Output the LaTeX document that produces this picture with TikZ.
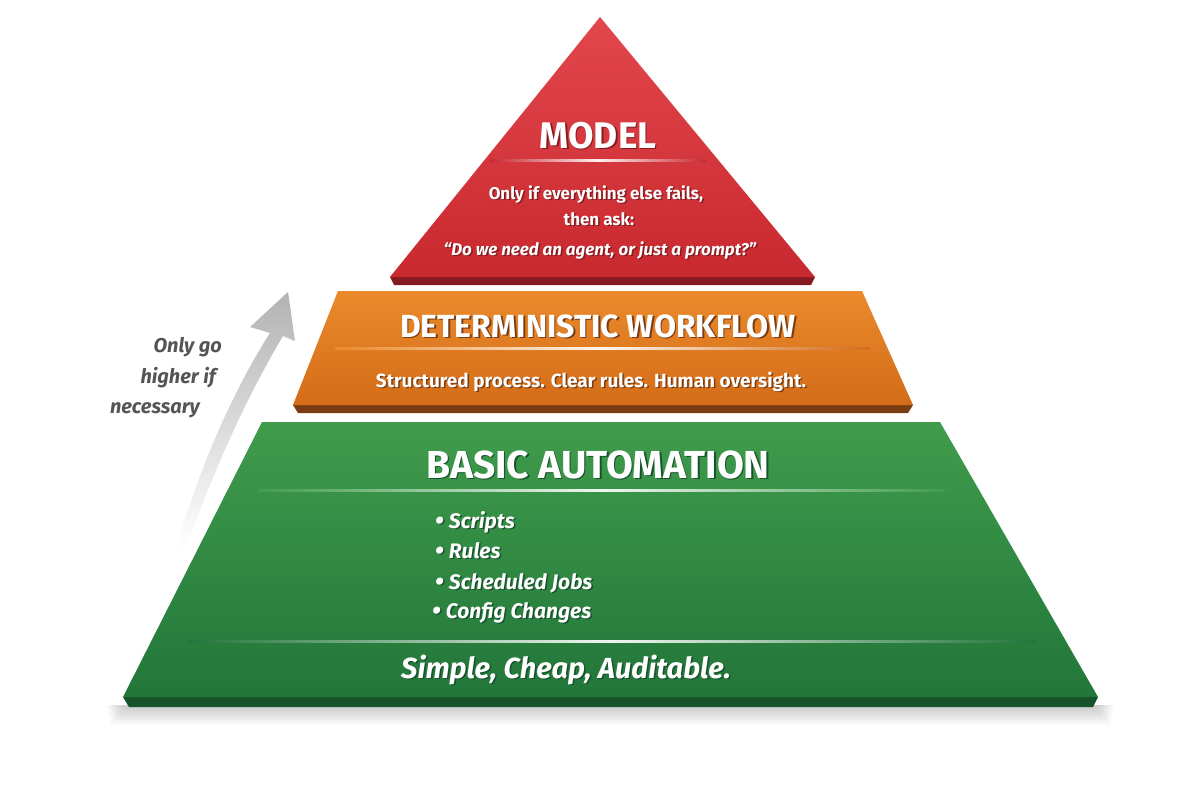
\documentclass[tikz,border=0pt]{standalone}
\usepackage{fontspec}
\newfontfamily\fira{Fira Sans}
\definecolor{redA}{HTML}{E2474C}
\definecolor{redB}{HTML}{C8292F}
\definecolor{redD}{HTML}{861B1F}
\definecolor{orA}{HTML}{EA8A2C}
\definecolor{orB}{HTML}{D46C18}
\definecolor{orD}{HTML}{7A3C12}
\definecolor{grA}{HTML}{409C4C}
\definecolor{grB}{HTML}{22763A}
\definecolor{grD}{HTML}{16532A}
\definecolor{lbl}{HTML}{555555}
\newcommand{\shtxt}[2]{\makebox[0pt][l]{\kern1.5pt\raisebox{-1.5pt}{\textcolor{#1}{#2}}}#2}
\newcommand{\bul}{{\fontsize{26}{26}\selectfont\raisebox{-1pt}{•}}\hspace{5pt}}
\tikzset{
  ttl/.style={text=white,inner sep=0,anchor=base,font=\fira\bfseries\fontsize{37}{37}\selectfont},
  body/.style={text=white,inner sep=0,anchor=base,font=\fira\bfseries\fontsize{17}{17}\selectfont},
  bodyit/.style={text=white,inner sep=0,anchor=base,font=\fira\bfseries\itshape\fontsize{17}{17}\selectfont},
  bullet/.style={text=white,inner sep=0,anchor=base west,font=\fira\bfseries\itshape\fontsize{21}{21}\selectfont},
  side/.style={text=lbl,inner sep=0,anchor=base east,font=\fira\bfseries\itshape\fontsize{20}{20}\selectfont},
}
\begin{document}
\begin{tikzpicture}[x=1pt,y=-1pt]
\useasboundingbox (0,0) rectangle (1200,800);
\fill[white] (0,0) rectangle (1200,800);
% soft shadow under base
\foreach \k in {1,...,8}{
  \fill[black,opacity=0.025] (123-\k*2,705) -- (1098+\k*2,705) -- (1094+\k*2,707+\k*2.2) -- (127-\k*2,707+\k*2.2) -- cycle;
}
% green layer
\fill[grD] (123,697) -- (1098,697) -- (1093,707) -- (129,707) -- cycle;
\shade[top color=grA, bottom color=grB] (262,422) -- (940,422) -- (1098,697) -- (123,697) -- cycle;
% orange layer
\fill[orD] (293,405) -- (913,405) -- (908,413) -- (298,413) -- cycle;
\shade[top color=orA, bottom color=orB] (338,291) -- (862,291) -- (913,405) -- (293,405) -- cycle;
% red layer
\fill[redD] (390,277) -- (815,277) -- (811,285) -- (394,285) -- cycle;
\shade[top color=redA, bottom color=redB] (600,17) -- (815,277) -- (390,277) -- cycle;
% divider lines
\shade[left color=redB, right color=redB, middle color=white!92!redA] (490,159) rectangle (706,161);
\shade[left color=orA, right color=orB, middle color=white!92!orA] (335,347) rectangle (870,349);
\shade[left color=grA, right color=grA, middle color=white!92!grA] (258,489) rectangle (945,491);
\shade[left color=grB, right color=grB, middle color=white!92!grA] (187,640) rectangle (1035,642);
% arrow
\shade[top color=gray!60, bottom color=white] (176,548) .. controls (205,450) and (240,380) .. (270,333) -- (250,327) -- (288,292) -- (295,341) -- (283,336) .. controls (252,388) and (218,458) .. (186,548) -- cycle;
% texts
\node[ttl] (model) at (598,148) {\shtxt{redD}{MODEL}};
\node[body] (m1) at (596,199) {\shtxt{redD}{Only if everything else fails,}};
\node[body] (m2) at (599,225) {\shtxt{redD}{then ask:}};
\node[bodyit] (m3) at (600,255) {\shtxt{redD}{“Do we need an agent, or just a prompt?”}};
\node[ttl,font=\fira\bfseries\fontsize{32}{32}\selectfont] (dw) at (598,337) {\shtxt{orD}{DETERMINISTIC WORKFLOW}};
\node[body,font=\fira\bfseries\fontsize{19}{19}\selectfont] (dw1) at (591,387) {\shtxt{orD}{Structured process. Clear rules. Human oversight.}};
\node[ttl,font=\fira\bfseries\fontsize{39}{39}\selectfont] (ba) at (598,478) {\shtxt{grD}{BASIC AUTOMATION}};
\node[bullet] (b1) at (435,528) {\shtxt{grD}{\bul Scripts}};
\node[bullet] (b2) at (435,558) {\shtxt{grD}{\bul Rules}};
\node[bullet] (b3) at (435,589) {\shtxt{grD}{\bul Scheduled Jobs}};
\node[bullet] (b4) at (432,618) {\shtxt{grD}{\bul Config Changes}};
\node[ttl,font=\fira\bfseries\itshape\fontsize{29}{29}\selectfont] (simple) at (566,678) {\shtxt{grD}{Simple, Cheap, Auditable.}};
\node[side] (s1) at (222,352) {Only go};
\node[side] (s2) at (216,383) {higher if};
\node[side] (s3) at (200,413) {necessary};
\end{tikzpicture}
\end{document}
